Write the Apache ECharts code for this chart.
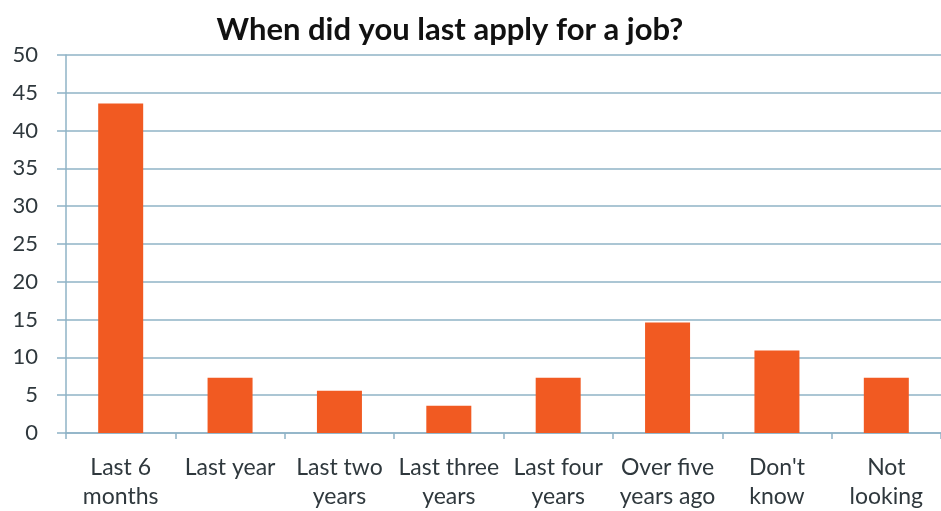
<!DOCTYPE html>
<html>
<head>
<meta charset="utf-8">
<script src="https://cdn.jsdelivr.net/npm/echarts@6/dist/echarts.min.js"></script>
<style>
  html, body { margin: 0; padding: 0; background: #ffffff; }
  #chart { width: 941px; height: 511px; }
</style>
</head>
<body>
<div id="chart"></div>
<script>
// Survey responses: when respondents last applied for a job
const categories = [
  'Last 6\nmonths', 'Last year', 'Last two\nyears', 'Last three\nyears',
  'Last four\nyears', 'Over five\nyears ago', "Don't\nknow", 'Not\nlooking'
];
const responses = [43.6, 7.3, 5.6, 3.6, 7.3, 14.6, 10.9, 7.3];
const titleText = 'When did you last apply for a job?';
const yMin = 0, yMax = 50, yStep = 5;

const fontFamily = 'Lato, "Open Sans", sans-serif';
const axisBlue = '#8fb3c6';
const labelColor = '#2f383d';

const chart = echarts.init(document.getElementById('chart'), null, { renderer: 'canvas' });
chart.setOption({
  animation: false,
  backgroundColor: '#ffffff',
  title: {
    text: titleText,
    left: 445,
    top: 9,
    textAlign: 'center',
    textStyle: { fontFamily, fontSize: 31, fontWeight: 'bold', color: '#111111' }
  },
  grid: { left: 66, top: 55, width: 877, height: 380, containLabel: false },
  xAxis: {
    type: 'category',
    data: categories,
    axisLine: { lineStyle: { color: axisBlue, width: 1.5 } },
    axisTick: { show: true, alignWithLabel: false, length: 6, lineStyle: { color: axisBlue, width: 1.5 } },
    axisLabel: {
      interval: 0,
      fontFamily, fontSize: 23, color: labelColor,
      lineHeight: 29, margin: 20
    }
  },
  yAxis: {
    type: 'value',
    min: yMin, max: yMax, interval: yStep,
    axisLine: { show: true, lineStyle: { color: axisBlue, width: 1.5 } },
    axisTick: { show: true, length: 9, lineStyle: { color: axisBlue, width: 1.5 } },
    splitLine: { show: true, lineStyle: { color: axisBlue, width: 1.5 } },
    axisLabel: { fontFamily, fontSize: 22, color: labelColor, margin: 28 }
  },
  series: [{
    type: 'bar',
    data: responses,
    barWidth: 45,
    itemStyle: { color: '#f15a22' }
  }]
});
</script>
</body>
</html>
